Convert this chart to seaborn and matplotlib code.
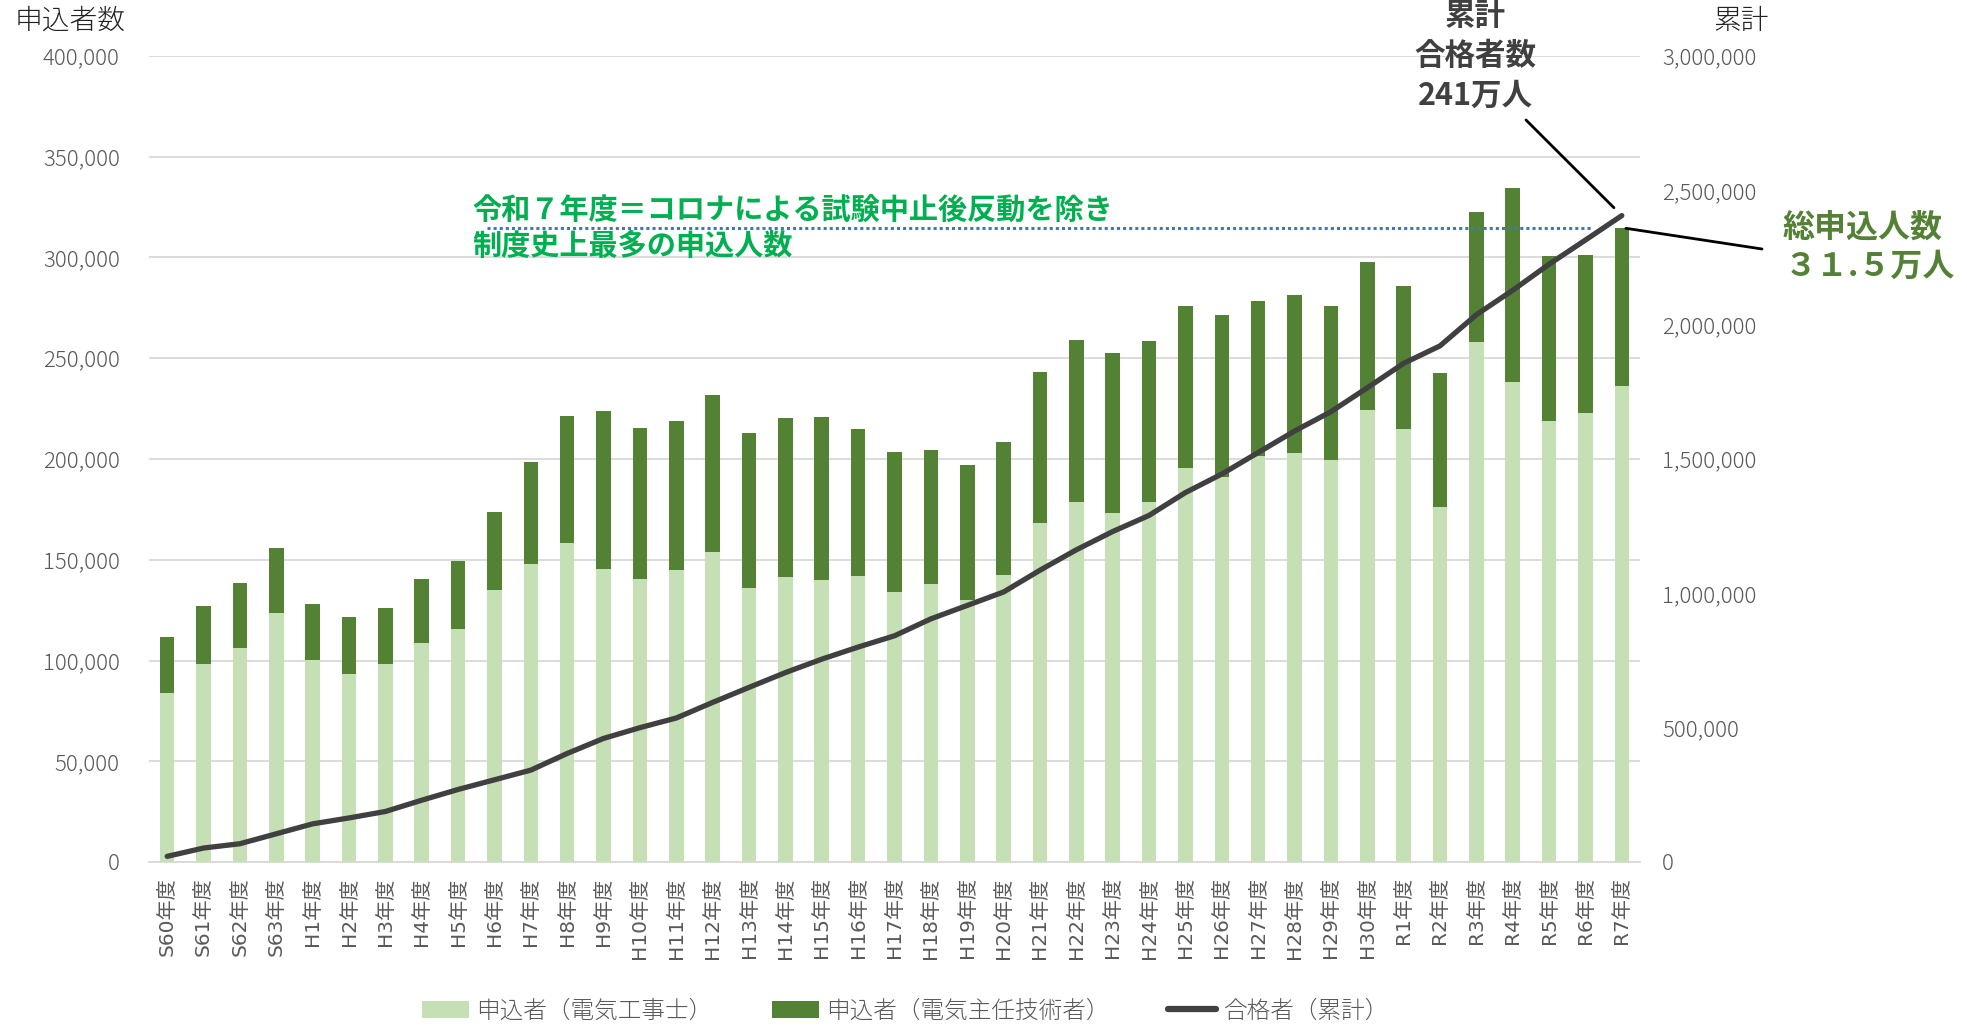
import numpy as np
import pandas as pd
import matplotlib
matplotlib.use("Agg")
import matplotlib.pyplot as plt
import seaborn as sns
from matplotlib.patches import Patch
from matplotlib.lines import Line2D
from matplotlib.ticker import FuncFormatter, MultipleLocator

# ---------------- data ----------------
years = ["S60", "S61", "S62", "S63",
         "H1", "H2", "H3", "H4", "H5", "H6", "H7", "H8", "H9", "H10",
         "H11", "H12", "H13", "H14", "H15", "H16", "H17", "H18", "H19", "H20",
         "H21", "H22", "H23", "H24", "H25", "H26", "H27", "H28", "H29", "H30",
         "R1", "R2", "R3", "R4", "R5", "R6", "R7"]

# 申込者（電気工事士）
applicants_koujishi = [84000, 98300, 106100, 123600, 100200, 93200, 98300, 108600, 115700, 134900,
                       147800, 158500, 145500, 140500, 145100, 153700, 135900, 141200, 140000, 142000,
                       134200, 138000, 129800, 142300, 168100, 178700, 173200, 178600, 195300, 191000,
                       201500, 203000, 199400, 224300, 215100, 176000, 258300, 238200, 219000, 222600,
                       236000]

# 申込者（電気主任技術者）
applicants_shunin = [27600, 28800, 32600, 32400, 27900, 28500, 28000, 31700, 33600, 38800,
                     50700, 63000, 78100, 74900, 73800, 78100, 76800, 79000, 80800, 72700,
                     69100, 66600, 67100, 66000, 74900, 80400, 79600, 80200, 80500, 80500,
                     76800, 78200, 76400, 73400, 70600, 66600, 64500, 96400, 81700, 78600,
                     78800]

# 合格者（累計）
passers_cumulative = [21000, 52000, 68000, 105000, 142000, 164000, 188000, 230000, 270000, 306000,
                      342000, 404000, 460000, 500000, 536000, 594000, 650000, 705000, 755000, 800000,
                      842000, 905000, 955000, 1005000, 1086000, 1162000, 1230000, 1290000, 1375000, 1444000,
                      1524000, 1604000, 1676000, 1765000, 1856000, 1921000, 2037000, 2128000, 2225000, 2315000,
                      2406000]

label_light = "申込者（電気工事士）"
label_dark = "申込者（電気主任技術者）"
label_line = "合格者（累計）"

# ---------------- style ----------------
W, H = 1967, 1028
DPI = 100
sns.set_theme(style="white")
plt.rcParams["font.family"] = ["Noto Sans CJK JP", "DejaVu Sans"]

C_LIGHT = "#C5E0B4"
C_DARK = "#548235"
C_LINE = "#404040"
C_GRID = "#D9D9D9"
C_TICK = "#595959"

df = pd.DataFrame({
    "year": [y + "年度" for y in years],
    "koujishi": applicants_koujishi,
    "shunin": applicants_shunin,
    "cum": passers_cumulative,
})
df["total"] = df["koujishi"] + df["shunin"]
df["idx"] = np.arange(len(df))

fig = plt.figure(figsize=(W / DPI, H / DPI), dpi=DPI)
fx = lambda x: x / W
fy = lambda y: 1 - y / H

ax = fig.add_axes([fx(149), fy(862), (1640 - 149) / W, (862 - 56) / H])

# stacked bars: total (dark) with light series drawn over its lower part
sns.barplot(data=df, x="year", y="total", color=C_DARK, saturation=1, width=0.4,
            linewidth=0, ax=ax, zorder=2)
sns.barplot(data=df, x="year", y="koujishi", color=C_LIGHT, saturation=1, width=0.4,
            linewidth=0, ax=ax, zorder=3)

ax.set_xlim(-0.5, len(df) - 0.5)
ax.set_ylim(0, 400000)
ax.yaxis.set_major_locator(MultipleLocator(50000))
ax.yaxis.set_major_formatter(FuncFormatter(lambda v, p: f"{int(v):,}"))
ax.grid(axis="y", color=C_GRID, linewidth=1.3, zorder=0)
ax.set_axisbelow(True)
for s in ["top", "right", "left"]:
    ax.spines[s].set_visible(False)
ax.spines["bottom"].set_color(C_GRID)
ax.spines["bottom"].set_linewidth(1.3)
ax.set_xlabel("")
ax.set_ylabel("")
ax.tick_params(axis="y", length=0, pad=21, labelsize=16, labelcolor=C_TICK)
ax.tick_params(axis="x", length=0, pad=11, labelcolor=C_TICK)
for t in ax.get_xticklabels():
    t.set_rotation(90)
    t.set_fontfamily(["DejaVu Sans", "Noto Sans CJK JP"])
    t.set_fontsize(14.5)
for t in ax.get_yticklabels():
    t.set_fontweight("light")

# cumulative line on secondary axis
ax2 = ax.twinx()
sns.lineplot(data=df, x="idx", y="cum", ax=ax2, color=C_LINE, linewidth=3.8,
             solid_capstyle="round", zorder=5)
ax2.set_ylim(0, 3000000)
ax2.set_xlim(-0.5, len(df) - 0.5)
ax2.yaxis.set_major_locator(MultipleLocator(500000))
ax2.yaxis.set_major_formatter(FuncFormatter(lambda v, p: f"{int(v):,}"))
for s in ["top", "right", "left", "bottom"]:
    ax2.spines[s].set_visible(False)
ax2.set_xlabel("")
ax2.set_ylabel("")
ax2.tick_params(axis="y", length=0, pad=16, labelsize=16, labelcolor=C_TICK)
ax2.grid(False)
for t in ax2.get_yticklabels():
    t.set_fontweight("light")

# dotted reference line at latest total
r7_total = df["total"].iloc[-1]
ax.plot([8.8, 39.2], [r7_total, r7_total], color="#4472C4", linewidth=2.2,
        linestyle=(0, (1, 1.0)), zorder=4)

# axis titles
fig.text(fx(15), fy(21), "申込者数", ha="left", va="center", fontsize=20,
         fontweight="light", color="#222222")
fig.text(fx(1741), fy(21), "累計", ha="center", va="center", fontsize=20,
         fontweight="light", color="#222222")

# annotations
for txt, yy in [("累計", 16), ("合格者数", 56), ("241万人", 96)]:
    fig.text(fx(1475), fy(yy), txt, ha="center", va="center", fontsize=22,
             fontweight="bold", color=C_LINE)
fig.text(fx(1863), fy(228), "総申込人数", ha="center", va="center", fontsize=23,
         fontweight="bold", color="#538135")
fig.text(fx(1870), fy(267), "３１.５万人", ha="center", va="center", fontsize=23,
         fontweight="bold", color="#538135")
fig.text(fx(472), fy(210), "令和７年度＝コロナによる試験中止後反動を除き", ha="left", va="center",
         fontsize=21, fontweight="bold", color="#00B050")
fig.text(fx(472), fy(246), "制度史上最多の申込人数", ha="left", va="center",
         fontsize=21, fontweight="bold", color="#00B050")

ax2.annotate("", xy=(len(df) - 1, df["cum"].iloc[-1]), xycoords="data",
             xytext=(fx(1526), fy(120)), textcoords="figure fraction",
             arrowprops=dict(arrowstyle="-", color="black", lw=2, shrinkA=0, shrinkB=8),
             zorder=6)
ax2.annotate("", xy=(len(df) - 1, r7_total / 400000 * 3000000), xycoords="data",
             xytext=(fx(1762), fy(249)), textcoords="figure fraction",
             arrowprops=dict(arrowstyle="-", color="black", lw=2, shrinkA=0, shrinkB=3),
             zorder=6)

# legend
handles = [Patch(facecolor=C_LIGHT, edgecolor="none", label=label_light),
           Patch(facecolor=C_DARK, edgecolor="none", label=label_dark),
           Line2D([0], [0], color=C_LINE, linewidth=4.5, solid_capstyle="round", label=label_line)]
leg = fig.legend(handles=handles, loc="center", bbox_to_anchor=(fx(905), fy(1011)), ncol=3,
                 frameon=False, fontsize=17, handlelength=2.0, handleheight=0.7,
                 handletextpad=0.3, columnspacing=2.5)
for t in leg.get_texts():
    t.set_color(C_TICK)
    t.set_fontweight("light")

fig.savefig("out.png", dpi=DPI)
